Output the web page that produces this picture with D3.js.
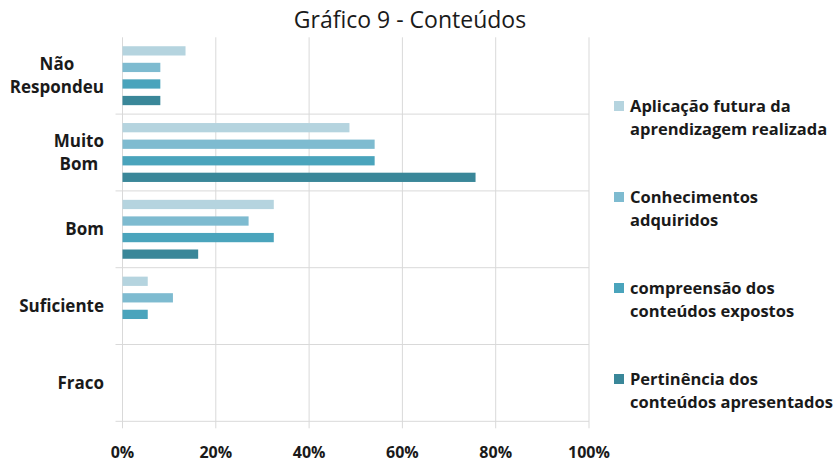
<!DOCTYPE html>
<html><head><meta charset="utf-8">
<script src="https://cdn.jsdelivr.net/npm/d3@7"></script>
<style>body{margin:0;background:#fff}svg{display:block}text{font-family:"Open Sans",Lato,sans-serif}</style>
</head><body>
<svg id="c" width="834" height="462"></svg>
<script>
const title = "Gráfico 9 - Conteúdos";
const categories = ["Não Respondeu", "Muito Bom", "Bom", "Suficiente", "Fraco"];
const categoryLines = [["Não", "Respondeu"], ["Muito", "Bom"], ["Bom"], ["Suficiente"], ["Fraco"]];
const seriesNames = ["Aplicação futura da aprendizagem realizada", "Conhecimentos adquiridos", "compreensão dos conteúdos expostos", "Pertinência dos conteúdos apresentados"];
const seriesLines = [["Aplicação futura da", "aprendizagem realizada"], ["Conhecimentos", "adquiridos"], ["compreensão dos", "conteúdos expostos"], ["Pertinência dos", "conteúdos apresentados"]];
const aplicacao = [13.51, 48.65, 32.43, 5.41, 0];
const conhecimentos = [8.11, 54.05, 27.03, 10.81, 0];
const compreensao = [8.11, 54.05, 32.43, 5.41, 0];
const pertinencia = [8.11, 75.68, 16.22, 0, 0];
const xTicks = [0, 20, 40, 60, 80, 100];
const colors = ["#b5d4df", "#7ebbd0", "#4aa4bc", "#3a8799"];

const series = [aplicacao, conhecimentos, compreensao, pertinencia];
const svg = d3.select("#c");
const m = {left: 122.5, right: 589, top: 37.3, bottom: 421.3};

const x = d3.scaleLinear().domain([0, 100]).range([m.left, m.right]);
const y = d3.scaleBand().domain(categories).range([m.top, m.bottom]).padding(0);
const yi = d3.scaleBand().domain(d3.range(4)).range([0, y.bandwidth()]).paddingInner(0.44).paddingOuter(0.54);

svg.append("g").selectAll("line").data(xTicks).join("line")
  .attr("x1", d => x(d)).attr("x2", d => x(d))
  .attr("y1", m.top).attr("y2", m.bottom + 7)
  .attr("stroke", "#d9d9d9").attr("stroke-width", 1);
const seps = categories.map(c => y(c) + y.bandwidth());
svg.append("g").selectAll("line").data(seps).join("line")
  .attr("x1", m.left - 7).attr("x2", m.right)
  .attr("y1", d => d).attr("y2", d => d)
  .attr("stroke", "#d9d9d9").attr("stroke-width", 1);

series.forEach((vals, si) => {
  svg.append("g").selectAll("rect").data(vals).join("rect")
    .attr("x", x(0))
    .attr("y", (d, i) => y(categories[i]) + yi(si))
    .attr("height", yi.bandwidth())
    .attr("width", d => x(d) - x(0))
    .attr("fill", colors[si]);
});

svg.append("g").selectAll("text").data(xTicks).join("text")
  .attr("x", d => x(d)).attr("y", 458)
  .attr("text-anchor", "middle")
  .attr("font-size", 16).attr("font-weight", "bold").attr("fill", "#1a1a1a")
  .text(d => d + "%");

categoryLines.forEach((lines, i) => {
  const g = svg.append("g");
  const cy = y(categories[i]) + y.bandwidth() / 2;
  const lh = 23;
  const ts = lines.map((l, j) => g.append("text")
    .attr("y", cy + (j - (lines.length - 1) / 2) * lh + 6)
    .attr("font-size", 17).attr("font-weight", "bold").attr("fill", "#1a1a1a")
    .attr("text-anchor", "middle").text(l));
  const w = d3.max(ts, t => t.node().getComputedTextLength());
  ts.forEach(t => t.attr("x", 104 - w / 2));
});

seriesLines.forEach((lines, i) => {
  const y0 = 106 + i * 91;
  svg.append("rect").attr("x", 614).attr("y", y0 - 5).attr("width", 10).attr("height", 10).attr("fill", colors[i]);
  lines.forEach((l, j) => {
    svg.append("text").attr("x", 630).attr("y", y0 + j * 23 + 6)
      .attr("font-size", 16.5).attr("font-weight", "bold").attr("fill", "#1a1a1a").text(l);
  });
});

svg.append("text").attr("x", 410).attr("y", 28).attr("text-anchor", "middle")
  .attr("font-size", 23).attr("fill", "#1a1a1a").text(title);
</script>
</body></html>
